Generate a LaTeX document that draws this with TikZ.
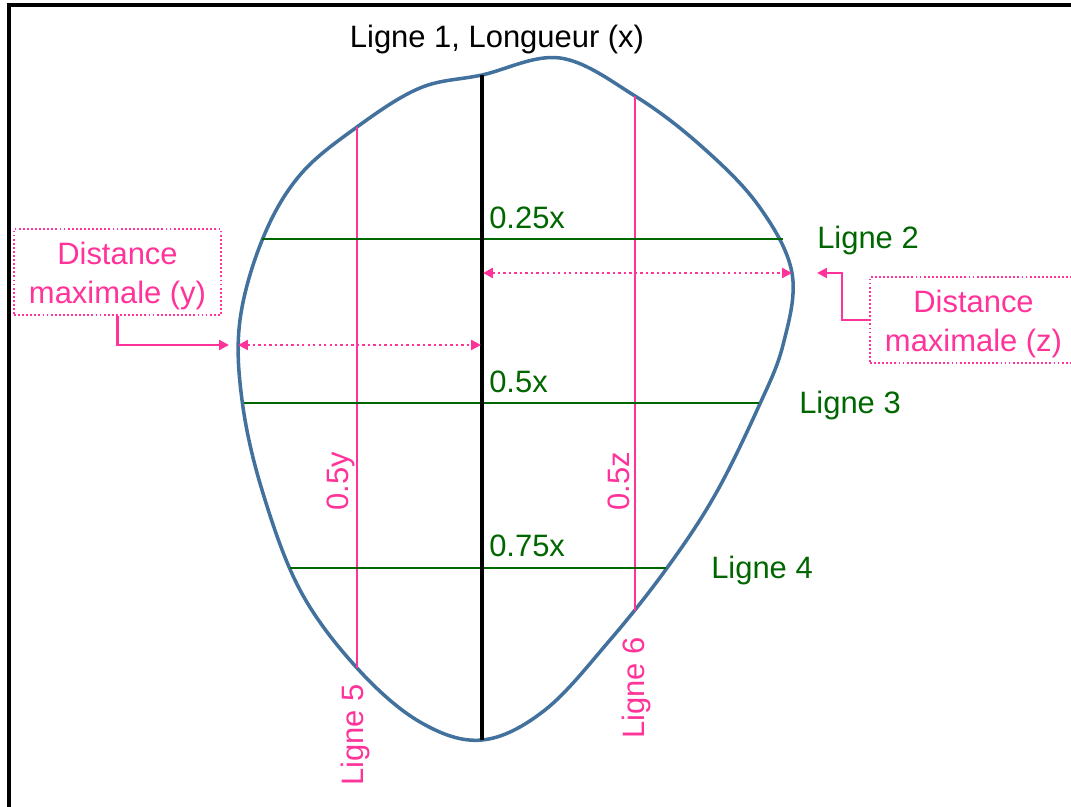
\documentclass[tikz,border=0pt]{standalone}
\usepackage{fontspec}
\setmainfont{Liberation Sans}
\usepackage{xcolor}
\usetikzlibrary{arrows.meta}
\definecolor{blobBlue}{HTML}{41719C}
\definecolor{lineGreen}{HTML}{006600}
\definecolor{markPink}{HTML}{FF3399}
\tikzstyle{lbl} = [font=\fontsize{22}{27.5}\selectfont, inner sep=0pt, align=center]
\tikzstyle{greenline} = [line width=1.9pt, color=lineGreen]
\tikzstyle{pinkline} = [line width=1.9pt, color=markPink]
\tikzstyle{dotarw} = [{Triangle[length=7pt,width=7pt]}-{Triangle[length=7pt,width=7pt]},
  line width=1.7pt, color=markPink, dash pattern=on 1.7pt off 2.2pt]
\tikzstyle{pinkarw} = [-{Triangle[length=7pt,width=7pt]}, line width=1.5pt, color=markPink]
\tikzstyle{dotbox} = [draw=markPink, line width=1.4pt, dash pattern=on 1.3pt off 1.6pt,
  minimum width=207*0.025cm, minimum height=86*0.025cm]

\begin{document}
\begin{tikzpicture}[x=0.025cm, y=-0.025cm]
  \useasboundingbox (0,0) rectangle (1071,807);
  % Frame
  \draw[line width=2.2pt] (9,807) -- (9,5) -- (1071,5);

  % Outline
  \draw[line width=2.5pt, color=blobBlue] plot[smooth cycle, tension=0.6] coordinates {
    (482,75) (560,58) (635,96) (700,145) (758,205) (792,273) (783,345) (758,408)
    (715,495) (667,568) (610,640) (545,710) (482,740) (420,722) (357,668) (300,590)
    (262,490) (242,400) (240,320) (263,238) (300,175) (357,127) (420,88)};

  % End points on the outline
  \coordinate (l1top) at (482,75);
  \coordinate (l1bot) at (482,740);
  \coordinate (l2w) at (262,239);
  \coordinate (l2e) at (783,239);
  \coordinate (l3w) at (244,403);
  \coordinate (l3e) at (759,403);
  \coordinate (l4w) at (290,568);
  \coordinate (l4e) at (666,568);
  \coordinate (l5top) at (357,127);
  \coordinate (l5bot) at (357,668);
  \coordinate (l6top) at (635,96);
  \coordinate (l6bot) at (635,611);
  \coordinate (ymax) at (238,345);
  \coordinate (ymid) at (481,345);
  \coordinate (zmid) at (483,273);
  \coordinate (zmax) at (792,273);

  % Lines
  \draw[pinkline] (l5top) -- (l5bot);
  \draw[pinkline] (l6top) -- (l6bot);
  \draw[greenline] (l2w) -- (l2e);
  \draw[greenline] (l3w) -- (l3e);
  \draw[greenline] (l4w) -- (l4e);
  \draw[line width=2.6pt] (l1top) -- (l1bot);

  % Distances
  \draw[dotarw] (ymax) -- (ymid);
  \draw[dotarw] (zmid) -- (zmax);

  % Labels
  \node[lbl] (t1) at (497,40) {Ligne 1, Longueur (x)};
  \node[lbl, text=lineGreen, anchor=west] (q25) at (489,218) {0.25x};
  \node[lbl, text=lineGreen, anchor=west] (q50) at (489,382) {0.5x};
  \node[lbl, text=lineGreen, anchor=west] (q75) at (489,546) {0.75x};
  \node[lbl, text=lineGreen] (t2) at (868,241) {Ligne 2};
  \node[lbl, text=lineGreen] (t3) at (850,405) {Ligne 3};
  \node[lbl, text=lineGreen] (t4) at (762,570) {Ligne 4};
  \node[lbl, text=markPink, rotate=90] (hy) at (341,481) {0.5y};
  \node[lbl, text=markPink, rotate=90] (hz) at (619,481) {0.5z};
  \node[lbl, text=markPink, rotate=90] (t5) at (355,735) {Ligne 5};
  \node[lbl, text=markPink, rotate=90] (t6) at (636,688) {Ligne 6};

  % Boxes
  \node[dotbox] (boxy) at (117.5,272) {};
  \node[lbl, text=markPink] (ytxt) at (117.5,276) {Distance\\maximale (y)};
  \node[dotbox] (boxz) at (973.5,320) {};
  \node[lbl, text=markPink] (ztxt) at (973.5,324) {Distance\\maximale (z)};
  \coordinate (ytip) at (229,345);
  \coordinate (ztip) at (817,273);
  \draw[pinkarw] (boxy.south) |- (ytip);
  \draw[pinkarw] (boxz.west) -- ++(-27,0) |- (ztip);
\end{tikzpicture}
\end{document}
